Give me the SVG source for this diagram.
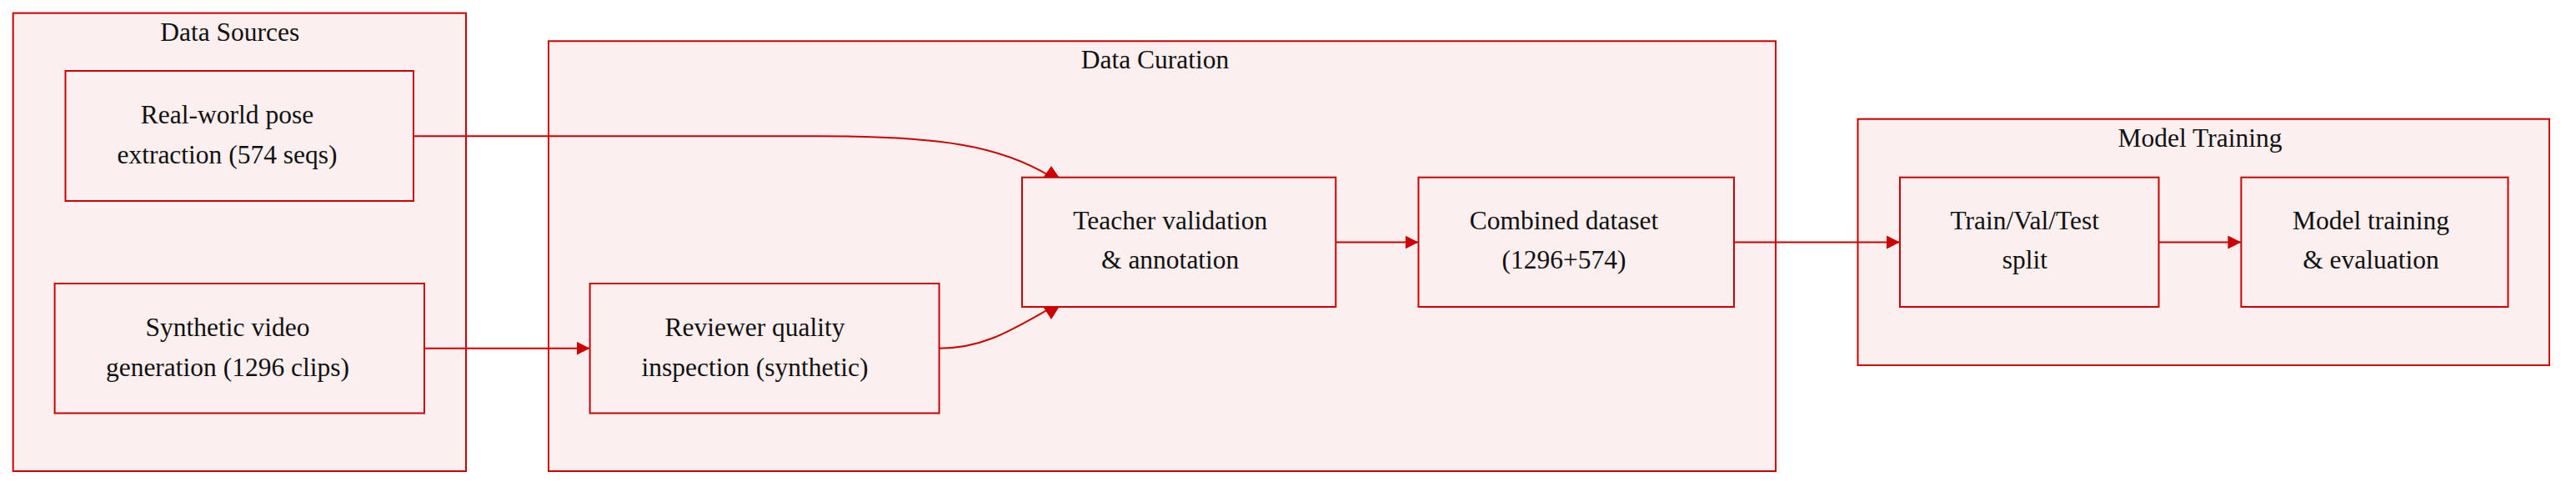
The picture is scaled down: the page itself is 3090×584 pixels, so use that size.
<svg xmlns="http://www.w3.org/2000/svg" width="3090" height="584" viewBox="0 0 3090 584">
<style>
.cluster rect{fill:#fcefef;stroke:#cc0000;stroke-width:2}
.node rect{fill:#fcefef;stroke:#cc0000;stroke-width:2}
text{font-family:"Liberation Serif","Times New Roman",serif;font-size:31.5px;fill:#111;text-anchor:middle}
.edge{fill:none;stroke:#cc0000;stroke-width:2}
.ah{fill:#cc0000;stroke:none}
</style>
<defs>
<marker id="arrow" viewBox="0 0 10 10" refX="10" refY="5" markerWidth="16" markerHeight="16" markerUnits="userSpaceOnUse" orient="auto"><path class="ah" d="M0,0 L10,5 L0,10 z"/></marker>
<marker id="arrowUp" viewBox="0 0 10 10" refX="0" refY="5" markerWidth="13" markerHeight="18" markerUnits="userSpaceOnUse" preserveAspectRatio="none" orient="270"><path class="ah" d="M0,0 L10,5 L0,10 z"/></marker>
<marker id="arrowDown" viewBox="0 0 10 10" refX="0" refY="5" markerWidth="14" markerHeight="18" markerUnits="userSpaceOnUse" preserveAspectRatio="none" orient="90"><path class="ah" d="M0,0 L10,5 L0,10 z"/></marker>
</defs>
<g id="cluster-data-sources" class="cluster">
<rect x="15.7" y="15.7" width="543.3" height="549.3"/>
<text x="275.7" y="48.5">Data Sources</text>
</g>
<g id="cluster-data-curation" class="cluster">
<rect x="658" y="49.3" width="1472" height="515.7"/>
<text x="1385.5" y="81.7">Data Curation</text>
</g>
<g id="cluster-model-training" class="cluster">
<rect x="2228.5" y="142.7" width="829.5" height="295.3"/>
<text x="2639" y="175.7">Model Training</text>
</g>
<g id="node-realworld" class="node">
<rect x="78.5" y="85" width="417.5" height="156"/>
<text x="272.5" y="147.5">Real-world pose</text>
<text x="272.5" y="195.5">extraction (574 seqs)</text>
</g>
<g id="node-synthetic" class="node">
<rect x="65.6" y="340" width="443.4" height="155.5"/>
<text x="273" y="402.5">Synthetic video</text>
<text x="273" y="450.5">generation (1296 clips)</text>
</g>
<g id="node-reviewer" class="node">
<rect x="707.6" y="340" width="419" height="155.5"/>
<text x="905.5" y="402.5">Reviewer quality</text>
<text x="905.5" y="450.5">inspection (synthetic)</text>
</g>
<g id="node-teacher" class="node">
<rect x="1226" y="212.7" width="376.3" height="155.3"/>
<text x="1403.7" y="275">Teacher validation</text>
<text x="1403.7" y="322">&amp; annotation</text>
</g>
<g id="node-combined" class="node">
<rect x="1701.5" y="212.7" width="378.5" height="155.3"/>
<text x="1876" y="275">Combined dataset</text>
<text x="1876" y="322">(1296+574)</text>
</g>
<g id="node-split" class="node">
<rect x="2279" y="212.7" width="310.5" height="155.3"/>
<text x="2428.8" y="275">Train/Val/Test</text>
<text x="2428.8" y="322">split</text>
</g>
<g id="node-training" class="node">
<rect x="2688.4" y="212.7" width="320.1" height="155.3"/>
<text x="2844" y="275">Model training</text>
<text x="2844" y="322">&amp; evaluation</text>
</g>
<g id="connectors">
<path class="edge" d="M496,163.3 L980,163.3 C1130,163.3 1200,175 1261,212" marker-end="url(#arrowUp)"/>
<path class="edge" d="M509,417.7 L707.6,417.7" marker-end="url(#arrow)"/>
<path class="edge" d="M1126.6,417.7 C1180,417.7 1215,395 1261,369" marker-end="url(#arrowDown)"/>
<path class="edge" d="M1602.3,290.5 L1701.5,290.5" marker-end="url(#arrow)"/>
<path class="edge" d="M2080,290.5 L2279,290.5" marker-end="url(#arrow)"/>
<path class="edge" d="M2589.5,290.5 L2688.4,290.5" marker-end="url(#arrow)"/>
</g>
</svg>
